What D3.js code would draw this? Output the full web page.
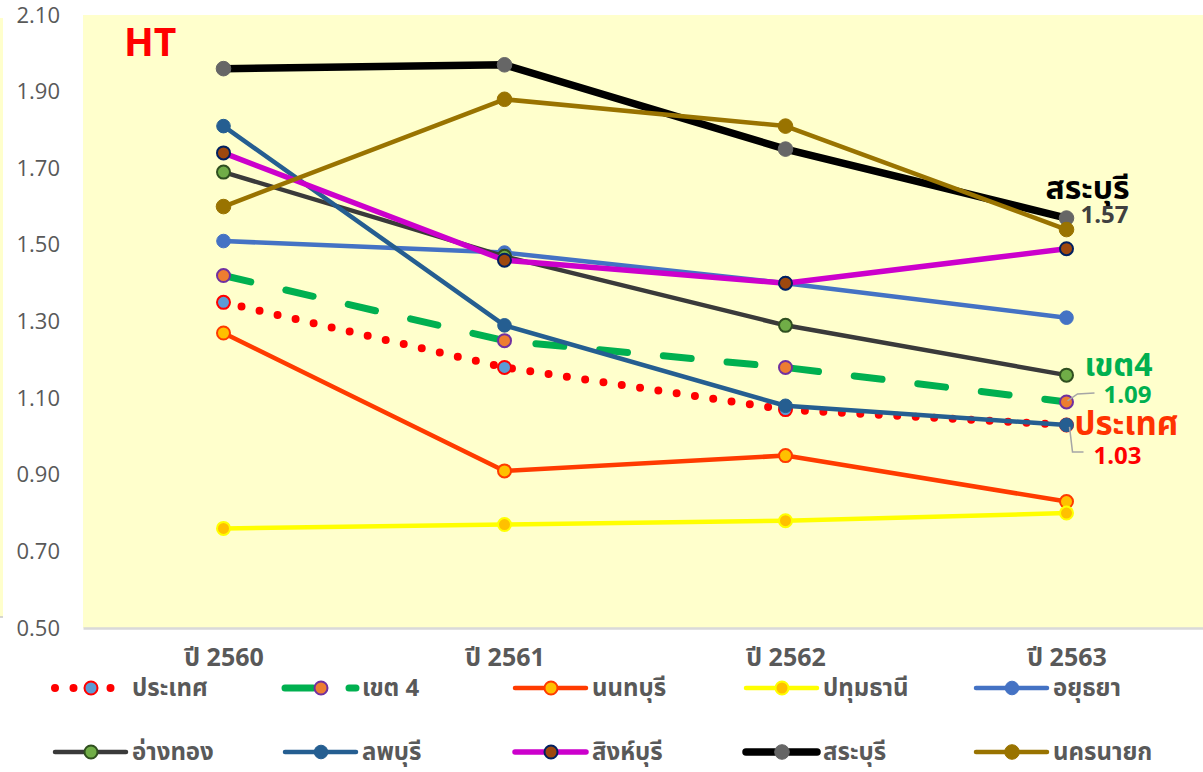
<!DOCTYPE html>
<html>
<head>
<meta charset="utf-8">
<script src="https://cdn.jsdelivr.net/npm/d3@7/dist/d3.min.js"></script>
<style>
  html, body { margin: 0; padding: 0; background: #ffffff; }
  svg { display: block; }
  .latin { font-family: "Open Sans", "DejaVu Sans", sans-serif; }
  .thai { font-family: "Noto Sans Thai", "Leelawadee UI", Tahoma, "Open Sans", sans-serif; }
</style>
</head>
<body>
<svg id="chart" width="1203" height="772"></svg>
<script>
// Years on the category axis
const years = ["2560", "2561", "2562", "2563"];
const yearLabels = ["ปี 2560", "ปี 2561", "ปี 2562", "ปี 2563"];

// Values per series
const prathet     = [1.35, 1.18, 1.07, 1.03];
const khet4       = [1.42, 1.25, 1.18, 1.09];
const nonthaburi  = [1.27, 0.91, 0.95, 0.83];
const pathumthani = [0.76, 0.77, 0.78, 0.80];
const ayutthaya   = [1.51, 1.48, 1.40, 1.31];
const angthong    = [1.69, 1.47, 1.29, 1.16];
const lopburi     = [1.81, 1.29, 1.08, 1.03];
const singburi    = [1.74, 1.46, 1.40, 1.49];
const saraburi    = [1.96, 1.97, 1.75, 1.57];
const nakhonnayok = [1.60, 1.88, 1.81, 1.54];

// Y axis ticks
const yTicks = [0.5, 0.7, 0.9, 1.1, 1.3, 1.5, 1.7, 1.9, 2.1];

// Series table: name, values and drawing style
const series = [
  { name: "ประเทศ",   values: prathet,     line: "#FF0000", width: 8,   dash: "0 18.5", fill: "#5B9BD5", ring: "#FF0000", r: 6.5, ringW: 2 },
  { name: "เขต 4",    values: khet4,       line: "#00B050", width: 7,   dash: "28 36",  fill: "#ED7D31", ring: "#7030A0", r: 6.5, ringW: 2 },
  { name: "นนทบุรี",  values: nonthaburi,  line: "#FF3B00", width: 4.5, dash: null,     fill: "#FFC000", ring: "#FF3B00", r: 6.5, ringW: 2 },
  { name: "ปทุมธานี", values: pathumthani, line: "#FFFF00", width: 4.5, dash: null,     fill: "#FFC000", ring: "#FFFF00", r: 6.5, ringW: 2 },
  { name: "อยุธยา",   values: ayutthaya,   line: "#4472C4", width: 4.5, dash: null,     fill: "#4472C4", ring: "#4472C4", r: 6.8, ringW: 1 },
  { name: "อ่างทอง",  values: angthong,    line: "#3A3A3A", width: 4.5, dash: null,     fill: "#70AD47", ring: "#2F4F1F", r: 6.5, ringW: 2 },
  { name: "ลพบุรี",   values: lopburi,     line: "#255E91", width: 4.5, dash: null,     fill: "#255E91", ring: "#255E91", r: 6.8, ringW: 1 },
  { name: "สิงห์บุรี", values: singburi,   line: "#CC00CC", width: 5.5, dash: null,     fill: "#9E480E", ring: "#002060", r: 6.5, ringW: 2 },
  { name: "สระบุรี",  values: saraburi,    line: "#000000", width: 7.5, dash: null,     fill: "#666666", ring: "#666666", r: 7.3, ringW: 1 },
  { name: "นครนายก",  values: nakhonnayok, line: "#997300", width: 4.5, dash: null,     fill: "#997300", ring: "#997300", r: 7.3, ringW: 1 }
];

const svg = d3.select("#chart");
const plot = { left: 83, right: 1207, top: 15, bottom: 628 };

const x = d3.scalePoint().domain(years).range([plot.left, plot.right]).padding(0.5);
const y = d3.scaleLinear().domain([0.5, 2.1]).range([plot.bottom, plot.top]);

// Thin strip along the left edge
svg.append("rect").attr("x", 0).attr("y", 18).attr("width", 3).attr("height", 599).attr("fill", "#FFFFCC");
svg.append("line").attr("x1", 0).attr("x2", 3).attr("y1", 617).attr("y2", 617).attr("stroke", "#C8C8C8").attr("stroke-width", 1.5);

// Plot background
svg.append("rect")
  .attr("x", plot.left).attr("y", plot.top)
  .attr("width", 1203 - plot.left).attr("height", plot.bottom - plot.top)
  .attr("fill", "#FFFFCC");

// Y axis
const yAxis = svg.append("g")
  .attr("transform", `translate(${plot.left},0)`)
  .call(d3.axisLeft(y).tickValues(yTicks).tickFormat(d3.format(".2f")).tickSize(0).tickPadding(23));
yAxis.select(".domain").remove();
yAxis.selectAll("text")
  .attr("class", "latin")
  .attr("font-size", 22)
  .attr("fill", "#595959");

// X axis
const xAxis = svg.append("g")
  .attr("transform", `translate(0,${plot.bottom})`)
  .call(d3.axisBottom(x).tickSize(0).tickPadding(20).tickFormat((d, i) => yearLabels[i]));
xAxis.select(".domain").attr("stroke", "#D9D9D9").attr("stroke-width", 2.5);
xAxis.selectAll("text")
  .attr("class", "thai")
  .attr("font-size", 25)
  .attr("font-weight", "bold")
  .attr("fill", "#595959");

// Title
svg.append("text")
  .attr("class", "latin")
  .attr("x", 124).attr("y", 56)
  .attr("font-size", 39).attr("font-weight", "bold")
  .attr("fill", "#FF0000")
  .text("HT");

// Lines and markers
const lineGen = d3.line().x((d, i) => x(years[i])).y(d => y(d));

series.forEach(s => {
  const g = svg.append("g");
  g.append("path")
    .attr("d", lineGen(s.values))
    .attr("fill", "none")
    .attr("stroke", s.line)
    .attr("stroke-width", s.width)
    .attr("stroke-linecap", "round")
    .attr("stroke-linejoin", "round")
    .attr("stroke-dasharray", s.dash);
  g.selectAll("circle")
    .data(s.values)
    .join("circle")
    .attr("cx", (d, i) => x(years[i]))
    .attr("cy", d => y(d))
    .attr("r", s.r)
    .attr("fill", s.fill)
    .attr("stroke", s.ring)
    .attr("stroke-width", s.ringW);
});

// End labels
const last = years[years.length - 1];
const xl = x(last);

// สระบุรี
const ySara = y(saraburi[3]);
svg.append("text").attr("class", "thai")
  .attr("x", xl - 21).attr("y", ySara - 19)
  .attr("font-size", 32).attr("font-weight", "bold").attr("fill", "#000000")
  .text("สระบุรี");
svg.append("text").attr("class", "latin")
  .attr("x", xl + 14).attr("y", ySara + 5)
  .attr("font-size", 24).attr("font-weight", "bold").attr("fill", "#404040")
  .text(saraburi[3].toFixed(2));

// เขต4
const yKhet = y(khet4[3]);
svg.append("text").attr("class", "thai")
  .attr("x", xl + 18).attr("y", yKhet - 26)
  .attr("font-size", 32).attr("font-weight", "bold").attr("fill", "#00B050")
  .text("เขต4");
svg.append("path")
  .attr("d", `M${xl + 1},${yKhet - 1} L${xl + 11},${yKhet - 8} L${xl + 28},${yKhet - 9}`)
  .attr("fill", "none").attr("stroke", "#A6A6A6").attr("stroke-width", 1.5);
svg.append("text").attr("class", "latin")
  .attr("x", xl + 37).attr("y", yKhet + 1)
  .attr("font-size", 24).attr("font-weight", "bold").attr("fill", "#00B050")
  .text(khet4[3].toFixed(2));

// ประเทศ
const yPra = y(prathet[3]);
svg.append("text").attr("class", "thai")
  .attr("x", xl + 8).attr("y", yPra + 10)
  .attr("font-size", 33).attr("font-weight", "bold").attr("fill", "#FF3300")
  .text("ประเทศ");
svg.append("path")
  .attr("d", `M${xl + 3},${yPra + 2} L${xl + 6},${yPra + 27} L${xl + 17},${yPra + 27}`)
  .attr("fill", "none").attr("stroke", "#A6A6A6").attr("stroke-width", 1.5);
svg.append("text").attr("class", "latin")
  .attr("x", xl + 27).attr("y", yPra + 39)
  .attr("font-size", 24).attr("font-weight", "bold").attr("fill", "#FF0000")
  .text(prathet[3].toFixed(2));

// Legend
const legendCols = [55, 285, 515, 746, 976];
const legendRows = [688, 752];
series.forEach((s, i) => {
  const lx = legendCols[i % 5];
  const ly = legendRows[Math.floor(i / 5)];
  const g = svg.append("g").attr("transform", `translate(${lx},${ly})`);
  g.append("line")
    .attr("x1", 0).attr("x2", 71).attr("y1", 0).attr("y2", 0)
    .attr("stroke", s.line)
    .attr("stroke-width", s.width)
    .attr("stroke-linecap", "round")
    .attr("stroke-dasharray", s.dash);
  g.append("circle")
    .attr("cx", 36).attr("cy", 0).attr("r", s.r)
    .attr("fill", s.fill).attr("stroke", s.ring).attr("stroke-width", s.ringW);
  g.append("text").attr("class", "thai")
    .attr("x", 77).attr("y", 8)
    .attr("font-size", 24).attr("font-weight", "bold").attr("fill", "#595959")
    .text(s.name);
});
</script>
</body>
</html>
